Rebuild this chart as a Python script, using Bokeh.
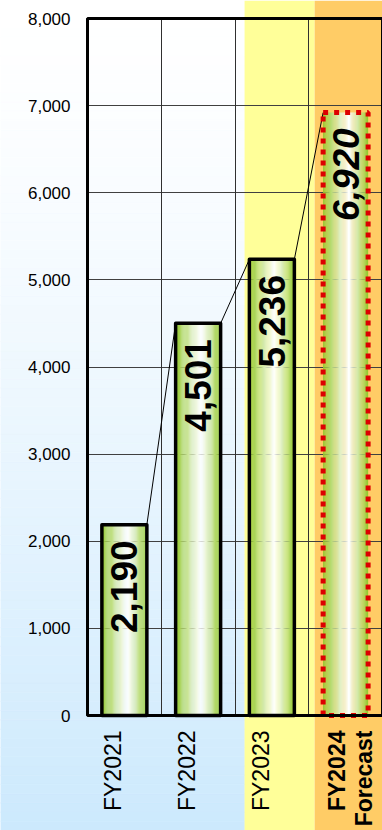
import numpy as np
from bokeh.plotting import figure
from bokeh.models import (Range1d, LinearAxis, FixedTicker, NumeralTickFormatter,
                          Grid, BoxAnnotation)
from bokeh.core.properties import value
from bokeh.embed import file_html
from bokeh.resources import INLINE

# ---------------- data ----------------
categories = ["FY2021", "FY2022", "FY2023", "FY2024\nForecast"]
values = [2190, 4501, 5236, 6920]
value_labels = ["2,190", "4,501", "5,236", "6,920"]
is_forecast = [False, False, False, True]
y_ticks = [0, 1000, 2000, 3000, 4000, 5000, 6000, 7000, 8000]

# ---------------- layout ----------------
W, H = 382, 830
plot_left, plot_top, plot_bottom = 87, 18, 715
y_max = y_ticks[-1]
n = len(categories)
px_per_cat = (W - plot_left) / n
px_per_unit = (plot_bottom - plot_top) / y_max
x_start = -plot_left / px_per_cat
y_start = -(H - plot_bottom) / px_per_unit
y_end = y_max + plot_top / px_per_unit

FONT = "Liberation Sans"

p = figure(width=W, height=H, x_range=Range1d(x_start, n), y_range=Range1d(y_start, y_end),
           output_backend="svg", toolbar_location=None,
           x_axis_location=None, y_axis_location=None, min_border=0,
           outline_line_color=None, background_fill_color="white", border_fill_color="white")
p.grid.visible = False

# ---------------- background bands ----------------
yellow_start = 2 + 0.13
orange_start = 3 + 0.08
ng = 90
edges = np.linspace(y_start, y_end, ng + 1)
top_col = np.array([255, 255, 255])
bot_col = np.array([204, 233, 253])
bg_cols = []
for k in range(ng):
    f = 1 - (k + 0.5) / ng  # 0 at top, 1 at bottom
    c = top_col + (bot_col - top_col) * f ** 1.4
    bg_cols.append("#%02x%02x%02x" % tuple(int(round(v)) for v in c))
p.quad(left=x_start, right=yellow_start, bottom=edges[:-1], top=edges[1:],
       fill_color=bg_cols, line_color=bg_cols, line_width=0.6, level="image")
p.quad(left=yellow_start, right=orange_start, bottom=y_start, top=y_end,
       fill_color="#ffff99", line_color=None, level="image")
p.quad(left=orange_start, right=n, bottom=y_start, top=y_end,
       fill_color="#ffcc66", line_color=None, level="image")

# ---------------- grids ----------------
ygrid = Grid(dimension=1, ticker=FixedTicker(ticks=y_ticks[1:-1]), cross_bounds=(0, n),
             grid_line_color="#404040", grid_line_width=1, level="underlay")
xgrid = Grid(dimension=0, ticker=FixedTicker(ticks=list(range(1, n))), cross_bounds=(0, y_max),
             grid_line_color="#303030", grid_line_width=1, level="underlay")
p.add_layout(ygrid, "center")
p.add_layout(xgrid, "center")

# ---------------- bars with horizontal gradient ----------------
centers = [i + 0.5 for i in range(n)]
bw = 0.61
ns = 40
green = np.array([146, 200, 40])
white = np.array([255, 255, 255])
peak = 0.57
sx, stop, scol = [], [], []
for c, v in zip(centers, values):
    for k in range(ns):
        u = (k + 0.5) / ns
        d = (u - peak) / (peak if u < peak else 1 - peak)
        t = abs(d) ** 1.15
        col = white + (green - white) * t
        sx.append(c - bw / 2 + u * bw)
        stop.append(v)
        scol.append("#%02x%02x%02x" % tuple(int(round(q)) for q in col))
p.vbar(x=sx, top=stop, bottom=0, width=bw / ns * 1.08, fill_color=scol, line_color=None)

# connector lines
p.segment(x0=[c + bw / 2 for c in centers[:-1]], y0=values[:-1],
          x1=[c - bw / 2 for c in centers[1:]], y1=values[1:],
          line_color="black", line_width=1)

# outlines
act_x = [c for c, f in zip(centers, is_forecast) if not f]
act_v = [v for v, f in zip(values, is_forecast) if not f]
fc_x = [c for c, f in zip(centers, is_forecast) if f]
fc_v = [v for v, f in zip(values, is_forecast) if f]
p.vbar(x=act_x, top=act_v, bottom=0, width=bw, fill_color=None,
       line_color="black", line_width=3.5, line_join="round")
p.vbar(x=fc_x, top=fc_v, bottom=0, width=bw, fill_color=None,
       line_color="#dd0000", line_width=5, line_dash="5 6")

# value labels inside bars
p.text(x=centers, y=values, text=value_labels, angle=np.pi / 2,
       text_align="center", text_baseline="middle", y_offset=62,
       text_font=value(FONT), text_font_size="37px",
       text_font_style=["bold italic" if f else "bold" for f in is_forecast],
       text_color="black")

# category labels
p.text(x=centers, y=[0] * n, text=categories, angle=np.pi / 2,
       text_align="right", text_baseline="middle", y_offset=15,
       x_offset=[5 if f else -11 for f in is_forecast],
       text_font=value(FONT), text_font_size="23px",
       text_font_style=["bold" if f else "normal" for f in is_forecast],
       text_color="black", text_line_height=1.05)

# plot border
p.add_layout(BoxAnnotation(left=0, right=n, bottom=0, top=y_max, fill_color=None,
                           line_color="black", line_alpha=1.0, line_width=3))

# y axis
yaxis = LinearAxis(fixed_location=0, bounds=(0, y_max), ticker=FixedTicker(ticks=y_ticks),
                   formatter=NumeralTickFormatter(format="0,0"),
                   axis_line_width=3, axis_line_color="black",
                   major_tick_in=0, major_tick_out=0, minor_tick_in=0, minor_tick_out=0,
                   major_label_standoff=17, major_label_text_font_size="17px",
                   major_label_text_font=FONT, major_label_text_color="black")
p.add_layout(yaxis, "left")

open("out.html", "w").write(file_html(p, INLINE))
